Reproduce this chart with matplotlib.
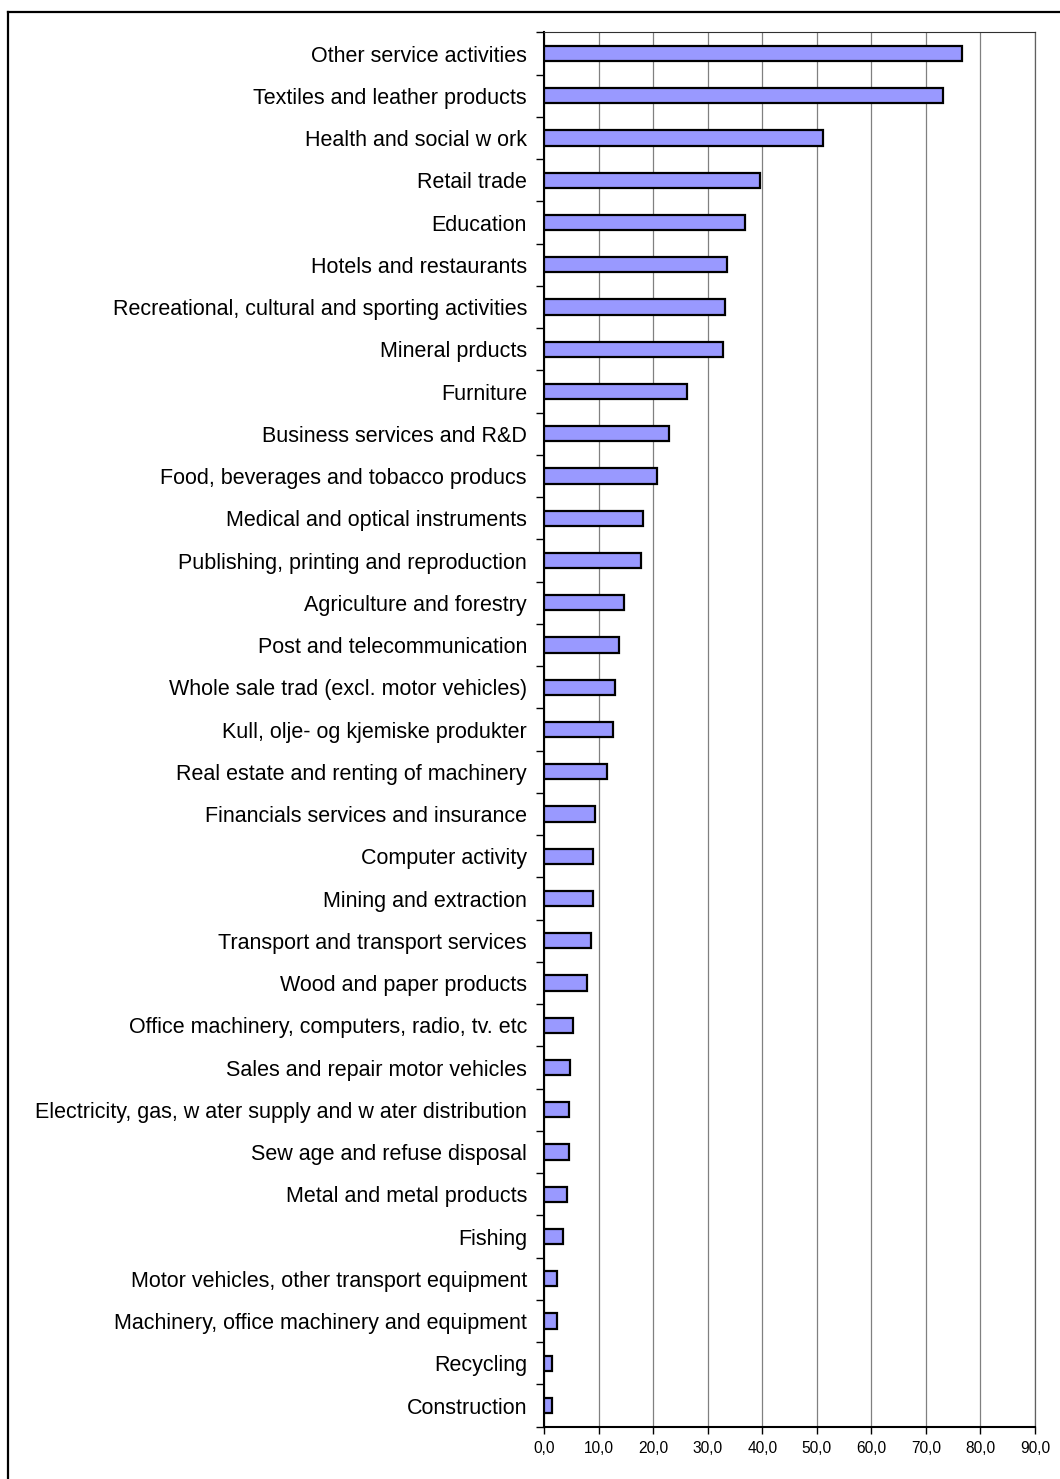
import matplotlib.pyplot as plt
from matplotlib.lines import Line2D
from matplotlib.ticker import FixedLocator, FuncFormatter

plt.rcParams["font.family"] = ["Liberation Sans", "DejaVu Sans"]

# sectors, top to bottom as shown in the chart
sectors = [
    "Other service activities",
    "Textiles and leather products",
    "Health and social w ork",
    "Retail trade",
    "Education",
    "Hotels and restaurants",
    "Recreational, cultural and sporting activities",
    "Mineral prducts",
    "Furniture",
    "Business services and R&D",
    "Food, beverages and tobacco producs",
    "Medical and optical instruments",
    "Publishing, printing and reproduction",
    "Agriculture and forestry",
    "Post and telecommunication",
    "Whole sale trad (excl. motor vehicles)",
    "Kull, olje- og kjemiske produkter",
    "Real estate and renting of machinery",
    "Financials services and insurance",
    "Computer activity",
    "Mining and extraction",
    "Transport and transport services",
    "Wood and paper products",
    "Office machinery, computers, radio, tv. etc",
    "Sales and repair motor vehicles",
    "Electricity, gas, w ater supply and w ater distribution",
    "Sew age and refuse disposal",
    "Metal and metal products",
    "Fishing",
    "Motor vehicles, other transport equipment",
    "Machinery, office machinery and equipment",
    "Recycling",
    "Construction",
]
values = [76.7, 73.1, 51.1, 39.6, 36.8, 33.5, 33.1, 32.7, 26.2, 22.9, 20.6,
          18.1, 17.7, 14.7, 13.7, 13.0, 12.6, 11.5, 9.3, 8.9, 8.9, 8.6, 7.8,
          5.3, 4.8, 4.5, 4.5, 4.2, 3.4, 2.3, 2.3, 1.5, 1.5]
x_ticks = [0, 10, 20, 30, 40, 50, 60, 70, 80, 90]

fig = plt.figure(figsize=(10.6, 14.79), dpi=100)
ax = fig.add_axes([0.5135, 0.0354, 0.4629, 0.9427])

pos = list(range(len(sectors)))
ax.barh(pos, values, height=0.36, color="#9999FF", edgecolor="black",
        linewidth=1.6, zorder=3)

ax.set_xlim(0, 90)
ax.set_ylim(len(sectors) - 0.5, -0.5)

ax.xaxis.set_major_locator(FixedLocator(x_ticks))
ax.xaxis.set_major_formatter(FuncFormatter(lambda v, p: f"{v:.1f}".replace(".", ",")))
ax.tick_params(axis="x", direction="out", length=5, width=1, pad=5, labelsize=11.2)

# category boundary ticks (major), labels at centres (minor)
ax.yaxis.set_major_locator(FixedLocator([i - 0.5 for i in range(len(sectors) + 1)]))
ax.yaxis.set_major_formatter(FuncFormatter(lambda v, p: ""))
ax.yaxis.set_minor_locator(FixedLocator(pos))
ax.set_yticklabels(sectors, minor=True)
ax.tick_params(axis="y", which="major", direction="out", length=6, width=1)
ax.tick_params(axis="y", which="minor", length=0, pad=12.5, labelsize=15.5)

ax.grid(axis="x", color="#808080", linewidth=0.9, zorder=1)
ax.set_axisbelow(True)

ax.spines["left"].set_linewidth(1.5)
ax.spines["bottom"].set_linewidth(1.5)
ax.spines["top"].set_color("#303030")
ax.spines["top"].set_linewidth(0.8)
ax.spines["right"].set_color("#606060")
ax.spines["right"].set_linewidth(0.9)

# outer chart border (top and left visible)
bx = 8.3 / 1060
by = 1 - 12 / 1479
fig.add_artist(Line2D([bx, bx], [0, by], transform=fig.transFigure, color="black", linewidth=1.6))
fig.add_artist(Line2D([bx, 1], [by, by], transform=fig.transFigure, color="black", linewidth=1.6))

fig.savefig("out.png", dpi=100)
